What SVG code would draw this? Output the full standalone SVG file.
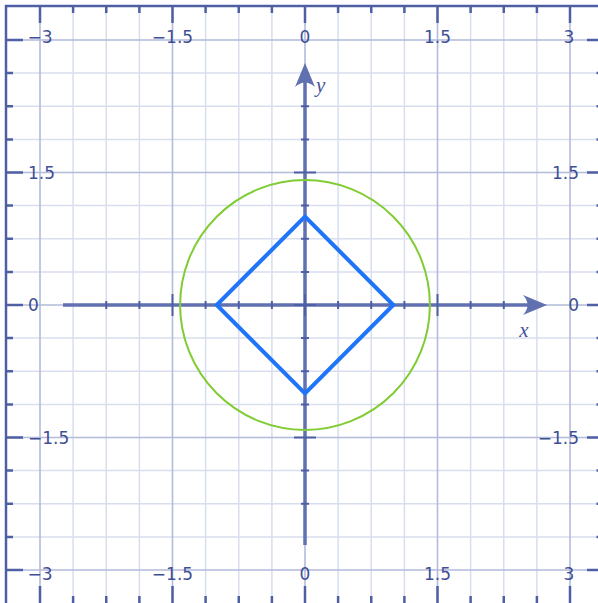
<svg xmlns="http://www.w3.org/2000/svg" width="598" height="603" viewBox="0 0 598 603">
<style>
.minor{stroke:#d8deee;stroke-width:1.5;fill:none}
.major{stroke:#b3bbda;stroke-width:1.6;fill:none}
.frame{stroke:#4f5fa3;stroke-width:2.5;fill:none}
.tick{stroke:#4f5fa3;stroke-width:2.5;fill:none}
.axis{stroke:#6070b0;stroke-width:3.5;fill:none}
.atick{stroke:#4f5fa3;stroke-width:2;fill:none}
.lbl{font-family:"DejaVu Sans",Verdana,sans-serif;font-size:17px;fill:#3f4f95}
.var{font-family:"Liberation Serif","Times New Roman",serif;font-style:italic;font-size:21px;fill:#45559a}
</style>
<rect width="598" height="603" fill="#ffffff"/>
<g id="grid">
<path class="minor" d="M73.1,6V603M106.25,6V603M139.4,6V603M205.6,6V603M238.75,6V603M271.9,6V603M338.1,6V603M371.25,6V603M404.4,6V603M470.6,6V603M503.75,6V603M536.9,6V603"/>
<path class="minor" d="M6,73.1H598M6,106.25H598M6,139.4H598M6,205.6H598M6,238.75H598M6,271.9H598M6,338.1H598M6,371.25H598M6,404.4H598M6,470.6H598M6,503.75H598M6,536.9H598"/>
<path class="major" d="M40,6V603M172.5,6V603M305,6V603M437.5,6V603M570,6V603"/>
<path class="major" d="M6,40H598M6,172.5H598M6,305H598M6,437.5H598M6,570H598"/>
</g>
<g id="frame">
<path class="frame" d="M6,603V6H598"/>
<path class="tick" d="M40,6V23M172.5,6V23M305,6V23M437.5,6V23M570,6V23M73.1,6V13M106.25,6V13M139.4,6V13M205.6,6V13M238.75,6V13M271.9,6V13M338.1,6V13M371.25,6V13M404.4,6V13M470.6,6V13M503.75,6V13M536.9,6V13"/>
<path class="tick" d="M40,603V586M172.5,603V586M305,603V586M437.5,603V586M570,603V586M73.1,603V596M106.25,603V596M139.4,603V596M205.6,603V596M238.75,603V596M271.9,603V596M338.1,603V596M371.25,603V596M404.4,603V596M470.6,603V596M503.75,603V596M536.9,603V596"/>
<path class="tick" d="M6,40H23M6,172.5H23M6,305H23M6,437.5H23M6,570H23M6,73.1H13M6,106.25H13M6,139.4H13M6,205.6H13M6,238.75H13M6,271.9H13M6,338.1H13M6,371.25H13M6,404.4H13M6,470.6H13M6,503.75H13M6,536.9H13"/>
<path class="tick" d="M598,40H587M598,172.5H587M598,305H587M598,437.5H587M598,570H587M598,73.1H596.5M598,106.25H596.5M598,139.4H596.5M598,205.6H596.5M598,238.75H596.5M598,271.9H596.5M598,338.1H596.5M598,371.25H596.5M598,404.4H596.5M598,470.6H596.5M598,503.75H596.5M598,536.9H596.5"/>
</g>
<g id="axes">
<path class="axis" d="M63,305H530M305,545V80"/>
<path class="atick" d="M106.25,301V309M139.4,301V309M205.6,301V309M238.75,301V309M271.9,301V309M338.1,301V309M371.25,301V309M404.4,301V309M470.6,301V309M503.75,301V309M172.5,294V316M305,294V316M437.5,294V316"/>
<path class="atick" d="M301,106.25H309M301,139.4H309M301,205.6H309M301,238.75H309M301,271.9H309M301,338.1H309M301,371.25H309M301,404.4H309M301,470.6H309M301,503.75H309M294,172.5H316M294,305H316M294,437.5H316"/>
<path d="M547,305L523,295Q532,305 523,315Z" fill="#6070b0"/>
<path d="M305,63L295,87Q305,78 315,87Z" fill="#6070b0"/>
</g>
<g id="circle">
<circle cx="305" cy="305" r="124.9" fill="none" stroke="#80cc33" stroke-width="2"/>
</g>
<g id="diamond">
<path d="M393.3,305L305,216.7L216.7,305L305,393.3Z" fill="none" stroke="#1f74fa" stroke-width="4" stroke-linejoin="miter"/>
</g>
<g id="labels">
<text class="lbl" x="40" y="43" text-anchor="middle">−3</text>
<text class="lbl" x="172.5" y="43" text-anchor="middle">−1.5</text>
<text class="lbl" x="305" y="43" text-anchor="middle">0</text>
<text class="lbl" x="437.5" y="43" text-anchor="middle">1.5</text>
<text class="lbl" x="569" y="43" text-anchor="middle">3</text>
<text class="lbl" x="40" y="580" text-anchor="middle">−3</text>
<text class="lbl" x="172.5" y="580" text-anchor="middle">−1.5</text>
<text class="lbl" x="305" y="580" text-anchor="middle">0</text>
<text class="lbl" x="437.5" y="580" text-anchor="middle">1.5</text>
<text class="lbl" x="569" y="580" text-anchor="middle">3</text>
<text class="lbl" x="28" y="178.5">1.5</text>
<text class="lbl" x="28" y="311">0</text>
<text class="lbl" x="28" y="443.5">−1.5</text>
<text class="lbl" x="579" y="178.5" text-anchor="end">1.5</text>
<text class="lbl" x="579" y="311" text-anchor="end">0</text>
<text class="lbl" x="579" y="443.5" text-anchor="end">−1.5</text>
<text class="var" x="524" y="337" text-anchor="middle">x</text>
<text class="var" x="316" y="92">y</text>
</g>
</svg>
